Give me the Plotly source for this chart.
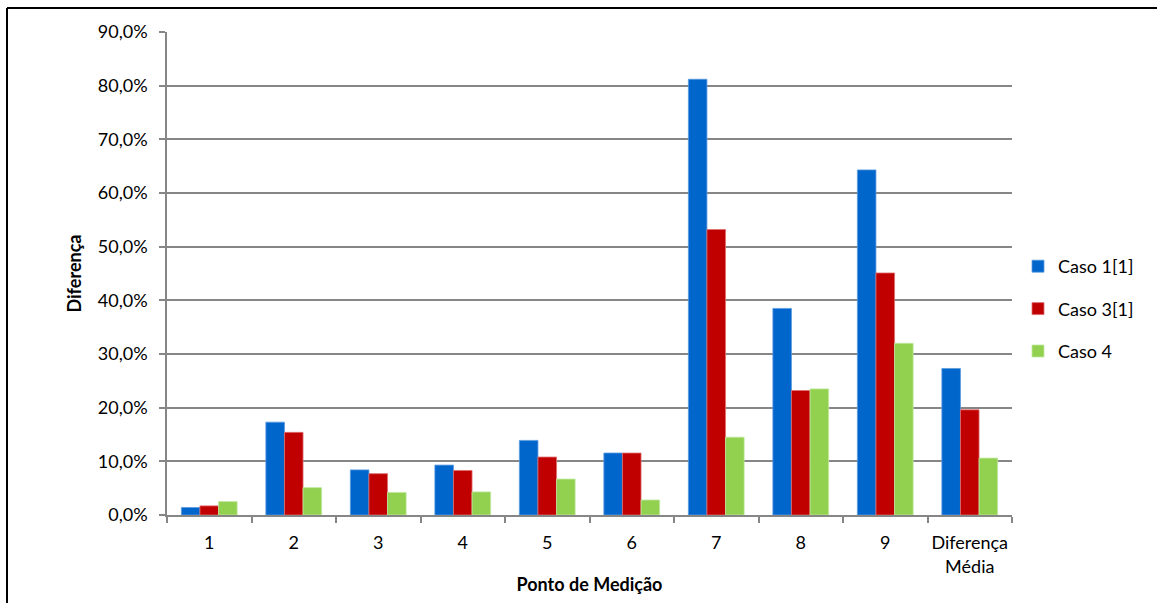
import plotly.graph_objects as go

# Measurement points (last category is the mean difference)
pontos = ["1", "2", "3", "4", "5", "6", "7", "8", "9", "Diferença<br>Média"]

# Relative differences per case (fractions)
caso1 = [0.014, 0.173, 0.084, 0.093, 0.139, 0.1155, 0.812, 0.385, 0.643, 0.273]
caso3 = [0.017, 0.154, 0.077, 0.083, 0.108, 0.1155, 0.532, 0.232, 0.451, 0.196]
caso4 = [0.025, 0.051, 0.042, 0.043, 0.067, 0.028, 0.145, 0.235, 0.320, 0.106]

series = [
    ("Caso 1[1]", caso1, "#0066CC", "#5B9BE0"),
    ("Caso 3[1]", caso3, "#C00000", "#E07070"),
    ("Caso 4", caso4, "#92D050", "#C2E8A0"),
]

FONT = "Lato, 'Open Sans', sans-serif"
FS = 18

fig = go.Figure()
for i, (name, vals, color, edge) in enumerate(series):
    fig.add_trace(go.Bar(
        x=pontos, y=vals, name=name, legendgroup=f"g{i}",
        marker=dict(color=color, line=dict(color=edge, width=0.8)),
    ))

# Plot area in pixels: x 167..1012, y 32..515
W, H = 1157, 603
L, R, T, B = 167, 1012, 32, 515
pw, ph = R - L, B - T


def px(x):
    return (x - L) / pw


def py(y):
    return (B - y) / ph


fig.update_layout(
    width=W, height=H,
    margin=dict(l=L, r=W - R, t=T, b=H - B, autoexpand=False),
    paper_bgcolor="white", plot_bgcolor="white",
    barmode="group", bargap=0.34, bargroupgap=0,
    separators=",.",
    font=dict(family=FONT, size=FS, color="#000000"),
    legend=dict(
        x=px(1018), y=py(309), xanchor="left", yanchor="middle",
        font=dict(size=FS), tracegroupgap=16, bgcolor="rgba(0,0,0,0)",
    ),
    xaxis=dict(
        showline=True, linecolor="#868686", linewidth=1.5,
        ticks="outside", tickson="boundaries", ticklen=6, tickcolor="#868686",
        tickwidth=1.5, showgrid=False, ticklabelstandoff=11,
        tickangle=0, automargin=False,
        title=dict(text="<b>Ponto de Medição</b>", font=dict(size=FS), standoff=3),
        tickfont=dict(size=FS),
    ),
    yaxis=dict(
        range=[0, 0.9], dtick=0.1, tickformat=".1%",
        showline=True, linecolor="#868686", linewidth=1.5,
        ticks="outside", ticklen=6, tickcolor="#868686", tickwidth=1.5,
        showgrid=True, gridcolor="#868686", gridwidth=1.5, zeroline=False,
        ticklabelstandoff=8, automargin=False,
        title=dict(text="<b>Diferença</b>", font=dict(size=FS), standoff=12),
        tickfont=dict(size=FS),
    ),
    shapes=[
        dict(type="line", xref="paper", yref="paper",
             x0=px(7), y0=py(8), x1=px(1170), y1=py(8),
             line=dict(color="black", width=2)),
        dict(type="line", xref="paper", yref="paper",
             x0=px(7), y0=py(8), x1=px(7), y1=py(620),
             line=dict(color="black", width=2)),
    ],
)

fig.write_html("out.html")
